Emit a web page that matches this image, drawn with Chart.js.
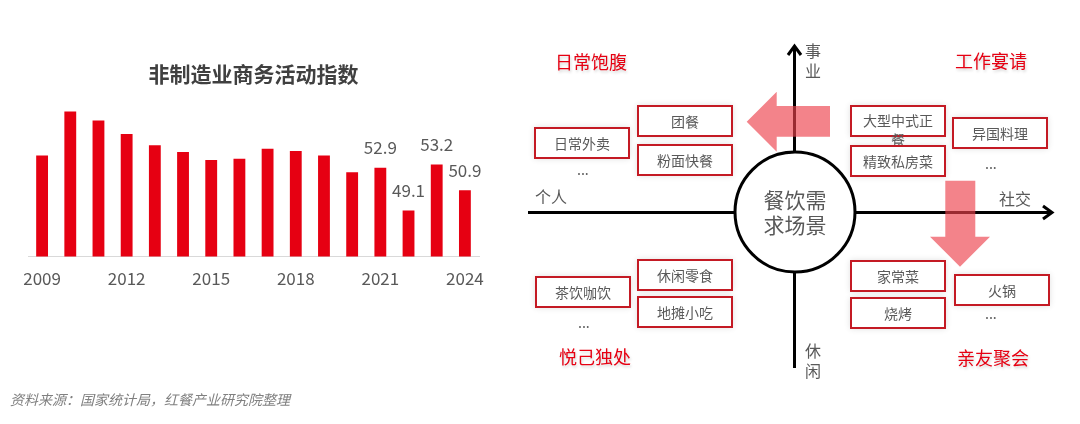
<!DOCTYPE html>
<html>
<head>
<meta charset="utf-8">
<script src="https://cdn.jsdelivr.net/npm/chart.js@4.4.1/dist/chart.umd.min.js"></script>
<style>
  html, body { margin: 0; padding: 0; background: #fff; }
  body { width: 1080px; height: 424px; position: relative; overflow: hidden; font-family: "Noto Sans CJK SC", sans-serif; }
  #barChart { position: absolute; left: -20px; top: 0; }
  #diagram { position: absolute; left: 0; top: 0; }
  .box { position: absolute; width: 96px; height: 32px; box-sizing: border-box; border: 2px solid #c41a24; background: #fff;
         box-shadow: 0 0 6px rgba(0,0,0,0.12); color: #595959; font-size: 14px; line-height: 28px; text-align: center; }
  .box.wrap { line-height: 19px; padding-top: 4px; }
  .red { position: absolute; color: #e60012; font-size: 18px; line-height: 20px; text-shadow: 1px 2px 3px rgba(0,0,0,0.18); }
  .axis { position: absolute; color: #595959; font-size: 16px; line-height: 20px; }
  .dots { position: absolute; color: #595959; font-size: 14px; line-height: 14px; }
  .center { position: absolute; color: #595959; font-size: 21px; line-height: 25px; text-align: center; width: 100px; }
  .source { position: absolute; left: 10px; top: 390px; color: #808080; font-size: 14px; font-style: italic; line-height: 18px; }
</style>
</head>
<body>
<canvas id="barChart" width="520" height="314"></canvas>

<svg id="diagram" width="1080" height="424">
  <!-- axes -->
  <line x1="528" y1="212.5" x2="1052" y2="212.5" stroke="#000" stroke-width="3"/>
  <polyline points="1043,206 1052,212.5 1043,219" fill="none" stroke="#000" stroke-width="3"/>
  <line x1="794.5" y1="46" x2="794.5" y2="368" stroke="#000" stroke-width="3"/>
  <polyline points="788,55 794.5,46 801,55" fill="none" stroke="#000" stroke-width="3"/>
  <circle cx="795" cy="212" r="60" fill="#fff" stroke="#000" stroke-width="3"/>
  <!-- pink arrows -->
  <polygon points="746.7,121.7 776.7,91.7 776.7,106 830,106 830,136.7 776.7,136.7 776.7,151.7" fill="rgb(236,64,76)" fill-opacity="0.65"/>
  <polygon points="945.3,180.7 975.3,180.7 975.3,236.7 990,236.7 960,266.7 930,236.7 945.3,236.7" fill="rgb(236,64,76)" fill-opacity="0.65"/>
</svg>

<div class="red" style="left:555px; top:51px;">日常饱腹</div>
<div class="red" style="left:955px; top:50px;">工作宴请</div>
<div class="red" style="left:559px; top:346px;">悦己独处</div>
<div class="red" style="left:957px; top:347px;">亲友聚会</div>

<div class="axis" style="left:535px; top:186px;">个人</div>
<div class="axis" style="left:999px; top:188px;">社交</div>
<div class="axis" style="left:805px; top:40px; width:16px;">事<br>业</div>
<div class="axis" style="left:805px; top:340px; width:16px;">休<br>闲</div>

<div class="center" style="left:745px; top:187px;">餐饮需<br>求场景</div>

<div class="box" style="left:637px; top:105px;">团餐</div>
<div class="box" style="left:637px; top:144px;">粉面快餐</div>
<div class="box" style="left:534px; top:127px;">日常外卖</div>
<div class="box wrap" style="left:850px; top:105px;">大型中式正<br>餐</div>
<div class="box" style="left:850px; top:145px;">精致私房菜</div>
<div class="box" style="left:952px; top:117px;">异国料理</div>
<div class="box" style="left:637px; top:259px;">休闲零食</div>
<div class="box" style="left:637px; top:296px;">地摊小吃</div>
<div class="box" style="left:535px; top:276px;">茶饮咖饮</div>
<div class="box" style="left:850px; top:260px;">家常菜</div>
<div class="box" style="left:850px; top:297px;">烧烤</div>
<div class="box" style="left:954px; top:274px;">火锅</div>

<div class="dots" style="left:577px; top:162px;">...</div>
<div class="dots" style="left:985px; top:156px;">...</div>
<div class="dots" style="left:578px; top:315px;">...</div>
<div class="dots" style="left:985px; top:306px;">...</div>

<div class="source">资料来源：国家统计局，红餐产业研究院整理</div>

<script>
const years = ['2009', '2010', '2011', '2012', '2013', '2014', '2015', '2016',
               '2017', '2018', '2019', '2020', '2021', '2022', '2023', '2024'];
const indexValues = [54.0, 57.9, 57.1, 55.9, 54.9, 54.3, 53.6, 53.7,
                     54.6, 54.4, 54.0, 52.5, 52.9, 49.1, 53.2, 50.9];
const tickYears = ['2009', '2012', '2015', '2018', '2021', '2024'];
const labelledYears = ['2021', '2022', '2023', '2024'];

const textFont = '"Noto Sans CJK SC", sans-serif';

// draws the value above the last few bars
const barValueLabels = {
    id: 'barValueLabels',
    afterDatasetsDraw(chart) {
        const ctx = chart.ctx;
        const meta = chart.getDatasetMeta(0);
        ctx.save();
        ctx.font = '17px ' + textFont;
        ctx.fillStyle = '#595959';
        ctx.textAlign = 'center';
        ctx.textBaseline = 'middle';
        meta.data.forEach((bar, i) => {
            if (!labelledYears.includes(years[i])) return;
            ctx.fillText(indexValues[i].toFixed(1), bar.x, bar.y - 20);
        });
        ctx.restore();
    }
};

const ctx = document.getElementById('barChart').getContext('2d');
const barChart = new Chart(ctx, {
    type: 'bar',
    data: {
        labels: years,
        datasets: [{
            label: '非制造业商务活动指数',
            data: indexValues,
            backgroundColor: '#e60012',
            barPercentage: 0.42,
            categoryPercentage: 1
        }]
    },
    options: {
        responsive: false,
        animation: false,
        layout: {
            padding: { left: 48, right: 21, top: 0, bottom: 13 }
        },
        scales: {
            x: {
                grid: { display: false, drawTicks: false },
                border: { display: true, color: '#d9d9d9', width: 1 },
                ticks: {
                    autoSkip: false,
                    maxRotation: 0,
                    padding: 12,
                    color: '#595959',
                    font: { family: textFont, size: 17 },
                    callback: function(value, index) {
                        return tickYears.includes(years[index]) ? years[index] : '';
                    }
                }
            },
            y: {
                display: false,
                min: 45,
                max: 59
            }
        },
        plugins: {
            legend: { display: false },
            tooltip: { enabled: false },
            title: {
                display: true,
                text: '非制造业商务活动指数',
                color: '#404040',
                font: { family: textFont, size: 21, weight: 'bold' },
                padding: { top: 61, bottom: 13 }
            }
        }
    },
    plugins: [barValueLabels]
});
</script>
</body>
</html>
